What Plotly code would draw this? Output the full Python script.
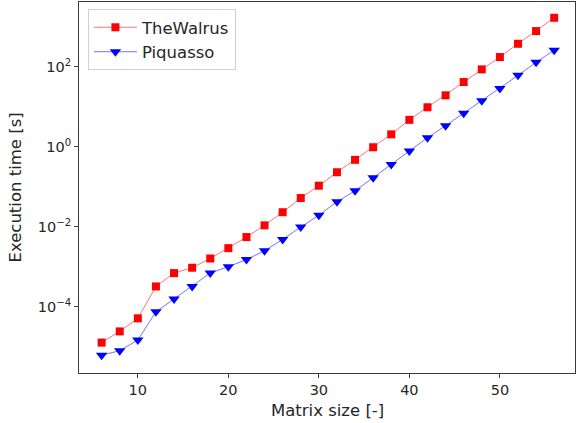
import plotly.graph_objects as go

matrix_size = [6, 8, 10, 12, 14, 16, 18, 20, 22, 24, 26, 28, 30, 32, 34, 36, 38, 40, 42, 44, 46, 48, 50, 52, 54, 56]
thewalrus = [1.26e-5, 2.4e-5, 5.1e-5, 3.2e-4, 6.9e-4, 9.4e-4, 1.6e-3, 2.9e-3, 5.5e-3, 1.08e-2, 2.3e-2,
             5.2e-2, 0.106, 0.23, 0.47, 0.97, 2.04, 4.7, 9.7, 19.3, 41.5, 86, 175, 376, 780, 1680]
piquasso = [6.1e-6, 7.9e-6, 1.47e-5, 7.4e-5, 1.56e-4, 3.2e-4, 6.9e-4, 1.0e-3, 1.5e-3, 2.5e-3, 4.8e-3,
            9.8e-3, 1.93e-2, 0.042, 0.079, 0.168, 0.36, 0.78, 1.68, 3.35, 6.9, 14.1, 28.8, 61, 129, 260]
y_tickvals = [1e-4, 1e-2, 1, 1e2]
y_ticktext = ["10<sup>−4</sup>", "10<sup>−2</sup>", "10<sup>0</sup>", "10<sup>2</sup>"]
x_tickvals = [10, 20, 30, 40, 50]

FONT = "DejaVu Sans"
TXT = "#262626"

fig = go.Figure()
fig.add_trace(go.Scatter(
    x=matrix_size, y=thewalrus, name="TheWalrus", mode="lines+markers",
    line=dict(color="rgba(255,0,0,0.55)", width=1),
    marker=dict(symbol="square", size=8, color="#ff0000", line=dict(width=0)),
))
fig.add_trace(go.Scatter(
    x=matrix_size, y=piquasso, name="Piquasso", mode="lines+markers",
    line=dict(color="rgba(0,0,255,0.55)", width=1),
    marker=dict(symbol="triangle-down", size=10, color="#0000ff", line=dict(width=0)),
))

axis_common = dict(
    showline=True, linecolor="#3a3a3a", linewidth=1, mirror=True,
    ticks="outside", ticklen=4, tickcolor="#3a3a3a", showgrid=False, zeroline=False,
    tickfont=dict(family=FONT, size=14.5, color=TXT), automargin=False,
)
fig.update_xaxes(range=[3.5, 58.3], tickvals=x_tickvals, **axis_common)
fig.update_yaxes(type="log", range=[-5.66, 3.62], tickvals=y_tickvals, ticktext=y_ticktext, **axis_common)

fig.add_annotation(text="Matrix size [-]", xref="paper", yref="paper", x=0.5, y=0,
                   yshift=-37, xanchor="center", yanchor="middle", showarrow=False,
                   font=dict(family=FONT, size=16.5, color=TXT))
fig.add_annotation(text="Execution time [s]", xref="paper", yref="paper", x=0, y=0.5,
                   xshift=-64, xanchor="center", yanchor="middle", textangle=-90, showarrow=False,
                   font=dict(family=FONT, size=16.5, color=TXT))

fig.update_layout(
    width=576, height=423,
    margin=dict(l=79, r=1, t=2, b=50),
    plot_bgcolor="white", paper_bgcolor="white",
    font=dict(family=FONT, size=16.5, color=TXT),
    legend=dict(x=0.018, y=0.981, xanchor="left", yanchor="top",
                bordercolor="#d0d0d0", borderwidth=1, bgcolor="rgba(255,255,255,0.8)",
                font=dict(family=FONT, size=16.5, color=TXT),
                itemwidth=43, tracegroupgap=0),
    showlegend=True,
)

fig.write_html("out.html", config={"displayModeBar": False},
               post_script="document.body.style.margin='0';document.body.style.padding='0';")
